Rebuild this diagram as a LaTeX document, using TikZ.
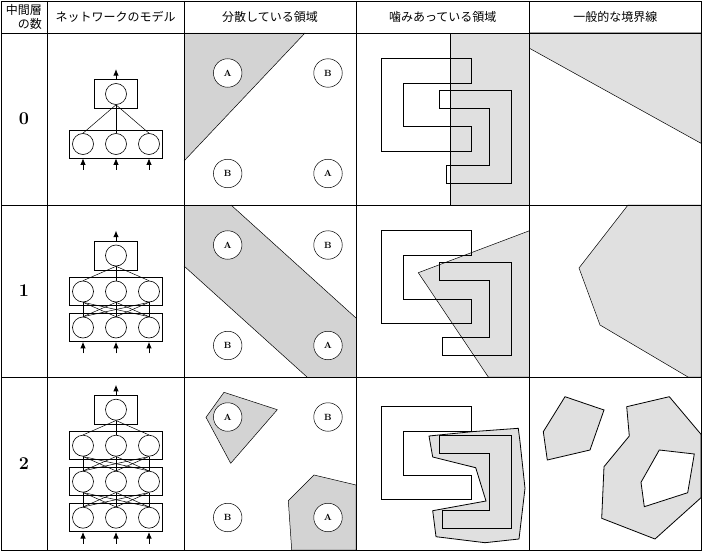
\documentclass[tikz,border=0pt]{standalone}
\usepackage{fontspec}
\newfontfamily\jpfont{Noto Sans CJK JP}
\usetikzlibrary{arrows.meta,positioning}
\definecolor{sepgray}{HTML}{D3D3D3}
\definecolor{softgray}{HTML}{E0E0E0}

\tikzset{
  unit/.style={circle,draw,line width=0.6pt,minimum size=21pt,inner sep=0pt},
  layerbox/.style={draw,line width=0.7pt,minimum width=93pt,minimum height=28pt,inner sep=0pt},
  outbox/.style={draw,line width=0.7pt,minimum width=43pt,minimum height=29pt,inner sep=0pt},
  link/.style={line width=0.5pt},
  flow/.style={-{Latex[length=6.5pt,width=5.5pt]},line width=0.8pt},
  sample/.style={circle,draw,fill=white,line width=0.5pt,minimum size=28.5pt,inner sep=0pt,font=\fontsize{9}{10}\selectfont\bfseries},
  head/.style={font=\jpfont\fontsize{12}{13.5}\selectfont},
  rownum/.style={font=\fontsize{18}{20}\selectfont\bfseries},
  tableline/.style={line width=0.9pt},
  thinborder/.style={line width=0.5pt},
  outline/.style={line width=0.8pt}
}

% network: tag, output y, lower layers, gap
\newcommand{\netmodel}[4]{%
  \node[outbox] (#1b0) at (116,#2) {};
  \node[unit] (#1u0-2) at (116,#2) {};
  \path (#1b0.north) ++(0,-10) coordinate (#1out);
  \draw[flow] (#1b0.north) -- (#1out);
  \foreach \k in {1,...,#3} {
    \pgfmathsetmacro\ly{#2+#4*\k}
    \node[layerbox] (#1b\k) at (116,\ly) {};
    \foreach \i/\x in {1/83,2/116,3/149}
      \node[unit] (#1u\k-\i) at (\x,\ly) {};
  }
  \foreach \i in {1,2,3}
    \draw[link] (#1u0-2.south) -- (#1u1-\i.north);
  \ifnum#3>1
    \foreach \k in {2,...,#3} {
      \pgfmathtruncatemacro\up{\k-1}
      \foreach \i in {1,2,3} \foreach \j in {1,2,3}
        \draw[link] (#1u\up-\j.south) -- (#1u\k-\i.north);
    }
  \fi
  \foreach \i in {1,2,3} {
    \path (#1u#3-\i |- #1b#3.south) coordinate (#1top\i) ++(0,11.5) coordinate (#1in\i);
    \draw[flow] (#1in\i) -- (#1top\i);
  }
}

% sample points: tag, row top
\newcommand{\samples}[2]{%
  \node[sample] (#1a1) at (227.7,#2+40) {A};
  \node[sample] (#1b1) at (328,#2+40) {B};
  \node[sample] (#1b2) at (227.7,#2+140.5) {B};
  \node[sample] (#1a2) at (328,#2+140.5) {A};
}

% interlocked shapes: left top, right top, right foot x
\newcommand{\interlock}[3]{%
  \draw[outline] (381.3,#1) -- (471.3,#1) -- (471.3,#1+25) -- (403.3,#1+25) -- (403.3,#1+68.4)
    -- (471.3,#1+68.4) -- (471.3,#1+93) -- (381.3,#1+93) -- cycle;
  \draw[outline] (439.3,#2) -- (511.7,#2) -- (511.7,#2+93) -- (#3,#2+93) -- (#3,#2+75)
    -- (489.3,#2+75) -- (489.3,#2+18.4) -- (439.3,#2+18.4) -- cycle;
}

\begin{document}
\begin{tikzpicture}[x=1pt,y=-1pt]
\useasboundingbox (0,0) rectangle (702,551);

\fill[sepgray] (184,33) -- (305,33) -- (184,161) -- cycle;
\draw[thinborder] (305,33) -- (184,161);
\fill[sepgray] (184,205) -- (231,205) -- (356,318) -- (356,377) -- (307,377) -- (184,266) -- cycle;
\draw[thinborder] (231,205) -- (356,318) (307,377) -- (184,266);
\filldraw[sepgray,draw=black,thinborder] (224,392.3) -- (277.3,409.7) -- (230.7,463.3) -- (206,417.3) -- cycle;
\filldraw[sepgray,draw=black,thinborder] (288.3,500.7) -- (314,475) -- (356,485) -- (356,550) -- (291.7,550) -- cycle;

\filldraw[softgray,draw=black,outline] (450.7,33) rectangle (529.5,205);
\filldraw[softgray,draw=black,thinborder] (418.3,272.7) -- (529.5,230.7) -- (529.5,377) -- (488.3,377) -- cycle;
\filldraw[softgray,draw=black,outline] (429,436) -- (471.7,431.7) -- (518.3,428.3) -- (520,441.7) -- (525,488.3)
  -- (519,539) -- (485,542.7) -- (436,536.7) -- (432.7,510.7) -- (486,501) -- (475.7,467.7) -- (432.7,457) -- cycle;

\filldraw[softgray,draw=black,thinborder] (529.5,33) -- (701,33) -- (701,143.3) -- (529.5,48.3) -- cycle;
\filldraw[softgray,draw=black,thinborder] (628,205) -- (701,205) -- (701,377) -- (688,377) -- (600,325) -- (579,268) -- cycle;
\filldraw[softgray,draw=black,outline] (565,396.7) -- (604,410) -- (590,450) -- (547.3,460) -- (543.3,431.7) -- cycle;
\filldraw[softgray,draw=black,outline,even odd rule]
  (626.7,406.7) -- (669.3,396.7) -- (701,434.3) -- (701,497.7) -- (655,539) -- (601.7,518.3) -- (604,466.7) -- (629.3,436) -- cycle
  (659.3,450) -- (694.3,454) -- (687.7,492.7) -- (644.3,506.7) -- (641,482.3) -- cycle;

\interlock{58.3}{90.3}{446.3}
\interlock{230.7}{262.3}{442.3}
\interlock{406.7}{435.3}{442.3}

\netmodel{n0}{94}{1}{50}
\netmodel{n1}{255.5}{2}{36}
\netmodel{n2}{409.7}{3}{36}

\samples{s0}{33}
\samples{s1}{205}
\samples{s2}{377}

\draw[tableline] (1,1) rectangle (701,550);
\foreach \x in {47,184,356,529.5} \draw[tableline] (\x,1) -- (\x,550);
\foreach \y in {33,205,377} \draw[tableline] (1,\y) -- (701,\y);

\node[head,align=right,anchor=east] (h0) at (45.5,17) {中間層\\の数};
\node[head] (h1) at (115.5,17) {ネットワークのモデル};
\node[head] (h2) at (270,17) {分散している領域};
\node[head] (h3) at (442.75,17) {噛みあっている領域};
\node[head] (h4) at (615.25,17) {一般的な境界線};

\node[rownum] (r0) at (24,119) {0};
\node[rownum] (r1) at (24,291) {1};
\node[rownum] (r2) at (24,463.5) {2};
\end{tikzpicture}
\end{document}
